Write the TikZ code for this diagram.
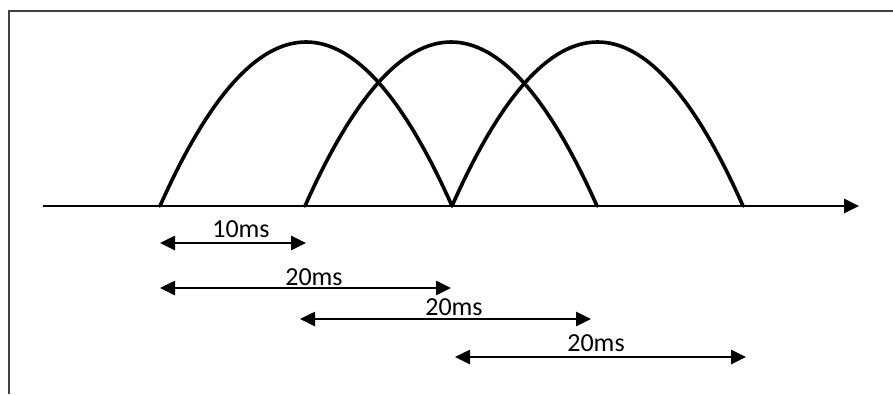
\documentclass[tikz,border=0pt]{standalone}
\usepackage{fontspec}
\setmainfont{Carlito}
\usetikzlibrary{arrows.meta}
\begin{document}
\begin{tikzpicture}[x=1pt,y=-1pt,
  frameline/.style={draw=black!75,line width=2pt},
  axisline/.style={draw=black,line width=2.6pt,-{Triangle[length=15pt,width=14pt]}},
  arcline/.style={draw=black,line width=3.6pt},
  span/.style={draw=black,line width=2.6pt,{Triangle[length=15pt,width=14pt]}-{Triangle[length=15pt,width=14pt]}},
  lbl/.style={anchor=base,inner sep=0pt,font=\fontsize{26}{28}\selectfont}]
\useasboundingbox[fill=white] (0,0) rectangle (893,394);
% frame (left and top edges)
\coordinate (fb) at (8.5,394);
\coordinate (ft) at (8.5,11);
\coordinate (fr) at (893,11);
\draw[frameline] (fb) -- (ft) -- (fr);
% axis
\coordinate (ax0) at (43,206);
\coordinate (ax1) at (859,206);
\draw[axisline] (ax0) -- (ax1);
% arcs (parabolic, as cubic Beziers)
\coordinate (p0) at (160,206);
\coordinate (p1) at (305,206);
\coordinate (p2) at (452,206);
\coordinate (p3) at (597,206);
\coordinate (p4) at (743,206);
\coordinate (c1a) at (257.33,-12.67);
\coordinate (c1b) at (354.67,-12.67);
\coordinate (c2a) at (402.33,-12.67);
\coordinate (c2b) at (499.67,-12.67);
\coordinate (c3a) at (549,-12.67);
\coordinate (c3b) at (646,-12.67);
\draw[arcline,line cap=round] (p0) .. controls (c1a) and (c1b) .. (p2);
\draw[arcline,line cap=round] (p1) .. controls (c2a) and (c2b) .. (p3);
\draw[arcline,line cap=round] (p2) .. controls (c3a) and (c3b) .. (p4);
% spans
\coordinate (s1a) at (160,243);
\coordinate (s1b) at (306,243);
\coordinate (s2a) at (160,288);
\coordinate (s2b) at (451,288);
\coordinate (s3a) at (300,319);
\coordinate (s3b) at (591,319);
\coordinate (s4a) at (455,357);
\coordinate (s4b) at (746,357);
\draw[span] (s1a) -- (s1b);
\draw[span] (s2a) -- (s2b);
\draw[span] (s3a) -- (s3b);
\draw[span] (s4a) -- (s4b);
\node[lbl] (l1) at (241,237) {10ms};
\node[lbl] (l2) at (314,285) {20ms};
\node[lbl] (l3) at (454,315) {20ms};
\node[lbl] (l4) at (596,351) {20ms};
\end{tikzpicture}
\end{document}
